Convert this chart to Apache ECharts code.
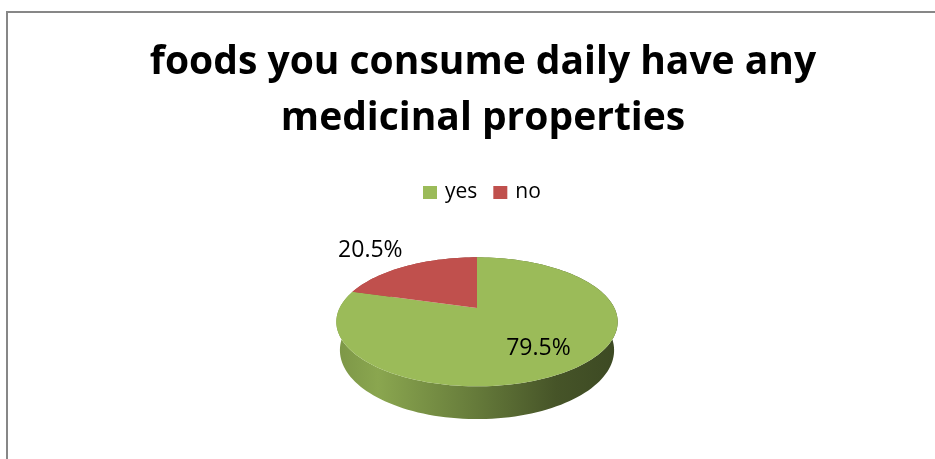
<!DOCTYPE html>
<html>
<head>
<meta charset="utf-8">
<script src="https://cdn.jsdelivr.net/npm/echarts@6/dist/echarts.min.js"></script>
<style>
  html, body { margin: 0; padding: 0; background: #ffffff; }
  #chart { width: 935px; height: 459px; }
</style>
</head>
<body>
<div id="chart"></div>
<script>
// Survey answers and their shares (percent)
const categories = ['yes', 'no'];
const shares = [79.5, 20.5];
const titleText = 'foods you consume daily have any\nmedicinal properties';

// Slice colours (top face) and the shading used on the rim wall
const sliceColors = ['#9BBB59', '#C0504D'];

// Simple perspective camera for a tilted disc (radius 1, thickness H)
const CAM = {
  cx: 477, cy: 308,     // screen position of the disc centre (top face)
  f: 573,               // focal scale in pixels
  D: 4.17,              // camera distance in radii
  tilt: 26.6 * Math.PI / 180,
  H: 0.232              // disc thickness in radii
};

function project(theta, r, h) {
  // theta: clockwise from 12 o'clock; r: fraction of radius; h: height (0 = top face)
  const s = Math.sin(CAM.tilt), c = Math.cos(CAM.tilt);
  const x = r * Math.sin(theta);
  const d = r * Math.cos(theta);
  const yd = -d * s - h * c;
  const depth = CAM.D + d * c - h * s;
  return [CAM.cx + CAM.f * x / depth, CAM.cy + CAM.f * yd / depth];
}

const total = shares.reduce((a, b) => a + b, 0);
function sliceAngles(i) {
  let start = 0;
  for (let k = 0; k < i; k++) start += shares[k];
  return [start / total * 2 * Math.PI, (start + shares[i]) / total * 2 * Math.PI];
}

function shade(hex, k) {
  const n = parseInt(hex.slice(1), 16);
  const r = Math.round(((n >> 16) & 255) * k);
  const g = Math.round(((n >> 8) & 255) * k);
  const b = Math.round((n & 255) * k);
  return 'rgb(' + r + ',' + g + ',' + b + ')';
}

function arcPoints(a0, a1, h) {
  const pts = [];
  const steps = Math.max(4, Math.ceil((a1 - a0) / (Math.PI / 90)));
  for (let j = 0; j <= steps; j++) {
    pts.push(project(a0 + (a1 - a0) * j / steps, 1, h));
  }
  return pts;
}

// Rim walls of every slice, drawn beneath the top faces
function renderWall(params, api) {
  const i = params.dataIndex;
  const [a0, a1] = sliceAngles(i);
  const top = arcPoints(a0, a1, 0);
  const bottom = arcPoints(a0, a1, -CAM.H).reverse();
  const left = project(-Math.PI / 2, 1, 0)[0] - 4;
  const right = project(Math.PI / 2, 1, 0)[0] + 4;
  const base = sliceColors[i];
  const fill = new echarts.graphic.LinearGradient(left, 0, right, 0, [
    { offset: 0, color: shade(base, 0.80) },
    { offset: 0.15, color: shade(base, 0.89) },
    { offset: 0.5, color: shade(base, 0.65) },
    { offset: 0.78, color: shade(base, 0.45) },
    { offset: 1, color: shade(base, 0.39) }
  ], true);
  return {
    type: 'polygon',
    shape: { points: top.concat(bottom) },
    style: { fill: fill }
  };
}

// Top face and percentage label of one slice
function makeTopRenderer(i) {
  return function (params, api) {
    const [a0, a1] = sliceAngles(i);
    const pts = [project(0, 0, 0)].concat(arcPoints(a0, a1, 0));
    const mid = (a0 + a1) / 2;
    const pct = api.value(0) / total;
    let lx, ly;
    if (pct >= 0.25) {
      [lx, ly] = project(mid, 0.66, 0);
      ly += 4;
    } else {
      const rim = project(mid, 1, 0);
      const dx = rim[0] - CAM.cx, dy = rim[1] - CAM.cy;
      const len = Math.sqrt(dx * dx + dy * dy);
      lx = rim[0] + dx / len * 41 - 1;
      ly = rim[1] + dy / len * 41 + 5;
    }
    return {
      type: 'group',
      children: [
        { type: 'polygon', shape: { points: pts }, style: { fill: sliceColors[i] } },
        {
          type: 'text',
          style: {
            text: api.value(0).toFixed(1) + '%',
            x: lx, y: ly,
            align: 'center', verticalAlign: 'middle',
            fill: '#000000',
            font: '23px "Open Sans"'
          }
        }
      ]
    };
  };
}

const series = [{
  type: 'custom',
  name: 'rim',
  coordinateSystem: 'none',
  z: 1,
  silent: true,
  data: shares,
  renderItem: renderWall
}];
categories.forEach((name, i) => {
  series.push({
    type: 'custom',
    name: name,
    coordinateSystem: 'none',
    z: 2,
    itemStyle: { color: sliceColors[i] },
    data: [shares[i]],
    renderItem: makeTopRenderer(i)
  });
});

const chart = echarts.init(document.getElementById('chart'));
chart.setOption({
  backgroundColor: '#ffffff',
  animation: false,
  title: {
    text: titleText,
    left: 478,
    top: 30,
    textAlign: 'center',
    textStyle: {
      fontFamily: 'Open Sans',
      fontWeight: 'bold',
      fontSize: 39,
      lineHeight: 56,
      color: '#000000'
    }
  },
  legend: {
    data: categories,
    left: 418,
    top: 177,
    icon: 'rect',
    itemWidth: 14,
    itemHeight: 13,
    itemGap: 16,
    textStyle: { fontFamily: 'Open Sans', fontSize: 21, color: '#000000', padding: [0, 0, 0, 3] }
  },
  graphic: [{
    type: 'rect',
    silent: true,
    shape: { x: 7, y: 12, width: 940, height: 460 },
    style: { fill: 'none', stroke: '#878787', lineWidth: 2 }
  }],
  series: series
});
</script>
</body>
</html>
